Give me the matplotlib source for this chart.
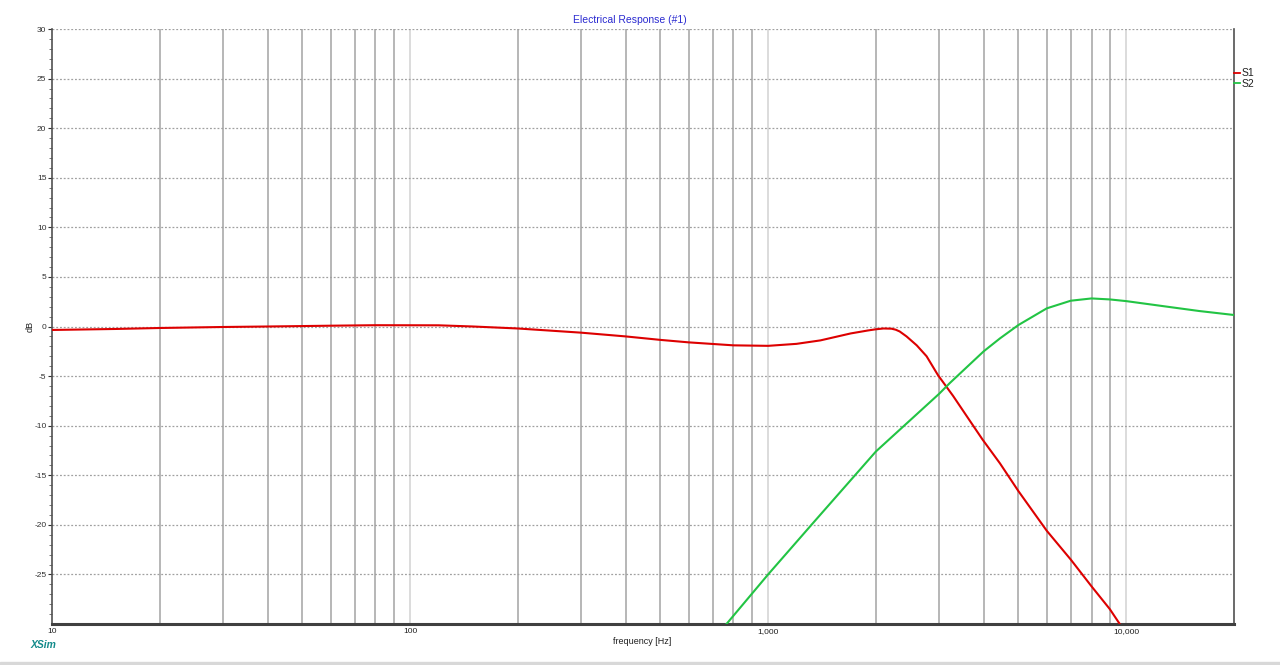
import numpy as np
import matplotlib.pyplot as plt
from matplotlib.patches import Rectangle
from matplotlib.ticker import FixedLocator, NullFormatter

plt.rcParams['font.family'] = ['Liberation Sans', 'DejaVu Sans']
plt.rcParams['axes.unicode_minus'] = False

# S1 (red) - woofer branch
s1_freq = [10, 15, 20, 30, 40, 60, 80, 120, 150, 200, 300, 400, 500, 600, 800,
           1000, 1200, 1400, 1700, 1900, 2000, 2100, 2210, 2270, 2330, 2435, 2600,
           2770, 2980, 3285, 3580, 3970, 4440, 5000, 6000, 7000, 8000, 9000, 9800]
s1_db = [-0.35, -0.25, -0.15, -0.05, 0.0, 0.08, 0.13, 0.12, 0.0, -0.2, -0.62,
         -1.0, -1.35, -1.6, -1.9, -1.95, -1.75, -1.4, -0.7, -0.4, -0.28, -0.2,
         -0.22, -0.32, -0.5, -1.0, -1.9, -3.0, -4.9, -7.0, -9.0, -11.4, -13.8,
         -16.6, -20.6, -23.5, -26.2, -28.5, -30.5]

# S2 (green) - tweeter branch
s2_freq = [740, 765, 1000, 1336, 2000, 3000, 3217, 4000, 4440, 5000, 6000, 7000,
           8000, 9000, 10000, 13000, 16000, 20000]
s2_db = [-30.5, -30.0, -25.0, -19.8, -12.6, -6.8, -5.7, -2.5, -1.2, 0.15, 1.83,
         2.6, 2.83, 2.73, 2.56, 2.0, 1.56, 1.16]

minor_lines = [f * d for d in (10, 100, 1000) for f in range(2, 10)]
major_lines = [100, 1000, 10000]
xtick_vals = [10, 100, 1000, 10000]
xtick_text = ['10', '100', '1,000', '10,000']

fig = plt.figure(figsize=(12.8, 6.65), dpi=100)
ax = fig.add_axes([52 / 1280, 1 - 624 / 665, (1234 - 52) / 1280, (624 - 29) / 665])

ax.set_xscale('log')
ax.set_xlim(10, 20000)
ax.set_ylim(-30, 30)

for f in minor_lines:
    ax.axvline(f, color='#aaaaaa', lw=1.2, zorder=1)
for f in major_lines:
    ax.axvline(f, color='#d6d6d6', lw=1.2, zorder=1)
for y in range(-25, 31, 5):
    ax.axhline(y, color='#a0a0a0', lw=0.9, ls=(0, (1.5, 1.5)), zorder=1)

ax.plot(s1_freq, s1_db, color='#dd0000', lw=1.5, zorder=3)
ax.plot(s2_freq, s2_db, color='#22c444', lw=1.5, zorder=3)

ax.xaxis.set_major_locator(FixedLocator(xtick_vals))
ax.xaxis.set_minor_locator(FixedLocator([]))
ax.set_xticklabels(xtick_text)
ax.xaxis.set_minor_formatter(NullFormatter())
ax.tick_params(axis='x', which='major', length=0, labelsize=6, pad=3, colors='#202020')

ax.set_yticks(range(-25, 31, 5))
ax.set_yticks(range(-29, 30), minor=True)
ax.tick_params(axis='y', which='major', length=3, width=0.8, labelsize=6,
               pad=1, colors='#303030')
ax.tick_params(axis='y', which='minor', length=2, width=0.6, colors='#606060')

ax.spines['top'].set_visible(False)
for side in ('left', 'right'):
    ax.spines[side].set_color('#505050')
    ax.spines[side].set_linewidth(1.2)
ax.spines['bottom'].set_color('#404040')
ax.spines['bottom'].set_linewidth(2.2)

fig.text(642 / 1280, 1 - 642 / 665, 'frequency [Hz]', fontsize=6.5,
         color='#202020', ha='center', va='center')
fig.text(30 / 1280, 1 - 326 / 665, 'dB', rotation=90, fontsize=6.5,
         color='#202020', ha='center', va='center')

fig.text(630 / 1280, 1 - 20 / 665, 'Electrical Response (#1)', fontsize=7.5,
         color='#2a2ad0', ha='center', va='center')

# legend at the right edge
fig.lines.append(plt.Line2D([1234 / 1280, 1240 / 1280], [1 - 73 / 665] * 2,
                            color='#dd0000', lw=1.3, transform=fig.transFigure))
fig.lines.append(plt.Line2D([1234 / 1280, 1240 / 1280], [1 - 83 / 665] * 2,
                            color='#22c444', lw=1.3, transform=fig.transFigure))
fig.text(1242 / 1280, 1 - 73 / 665, 'S1', fontsize=7.5, color='#202020',
         va='center', rotation=0)
fig.text(1242 / 1280, 1 - 84 / 665, 'S2', fontsize=7.5, color='#202020',
         va='center', rotation=0)

fig.text(30 / 1280, 1 - 645 / 665, 'XSim', fontsize=7.5, color='#118a8a',
         style='italic', weight='bold', va='center')

fig.patches.append(Rectangle((0, 0), 1, 3 / 665, transform=fig.transFigure,
                             color='#d8d8d8', zorder=0))

fig.savefig('out.png', dpi=100, facecolor='white')
